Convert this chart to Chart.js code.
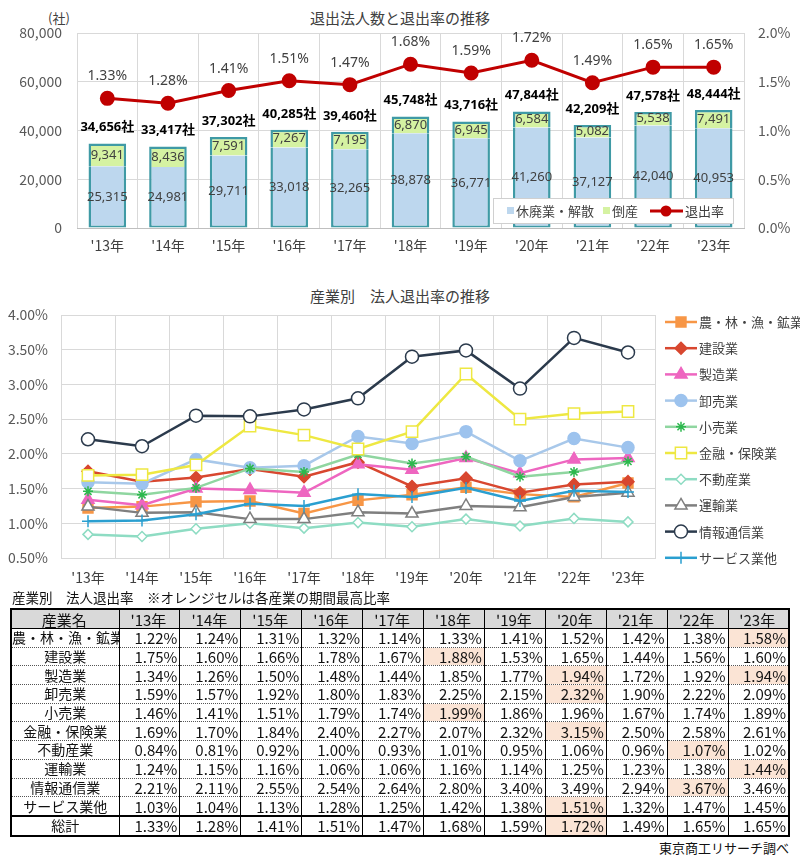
<!DOCTYPE html>
<html>
<head>
<meta charset="utf-8">
<script src="https://cdn.jsdelivr.net/npm/chart.js@4/dist/chart.umd.min.js"></script>
<style>
  body { margin: 0; width: 800px; height: 863px; position: relative; background: #fff;
         font-family: "Noto Sans CJK JP", sans-serif; color: #404040; overflow: hidden; }
  canvas { position: absolute; left: 0; }
  #topChart { top: 0; }
  #indChart { top: 280px; }
  .txt { position: absolute; white-space: nowrap; line-height: 1; }
  #tbl { position: absolute; left: 10px; top: 608px; width: 780px; border-collapse: collapse;
         table-layout: fixed; font-size: 15px; color: #111; border: 2px solid #000; }
  #tbl th, #tbl td { padding: 0 2px 0 0; line-height: 17px; height: 17.7px; white-space: nowrap; overflow: hidden;
         border-left: 1px solid #000; border-right: 1px solid #000; border-bottom: 1px dotted #555; font-weight: normal; }
  #tbl th { background: #d9d9d9; text-align: center; height: 18px; border-bottom: 1px solid #000; }
  #tbl td { text-align: right; }
  #tbl td.name { text-align: center; padding: 0; font-size: 14px; }
  #tbl td.hi { background: #fbe4d5; }
  #tbl tr.total td { border-top: 2px solid #000; }
</style>
</head>
<body>
<div class="txt" style="left:48px;top:11px;font-size:13px;">(社)</div>
<div class="txt" style="left:0;width:800px;top:10px;text-align:center;font-size:15px;">退出法人数と退出率の推移</div>
<canvas id="topChart" width="800" height="262"></canvas>
<div class="txt" style="left:0;width:800px;top:288px;text-align:center;font-size:15px;">産業別　法人退出率の推移</div>
<canvas id="indChart" width="800" height="310"></canvas>
<div class="txt" style="left:12px;top:591px;font-size:13.5px;color:#111;">産業別　法人退出率　※オレンジセルは各産業の期間最高比率</div>
<table id="tbl"></table>
<div class="txt" style="right:11px;top:841px;font-size:13px;color:#111;">東京商工リサーチ調べ</div>

<script>
const FONT = '"Noto Sans CJK JP", sans-serif';
const NUM_FONT = '"Noto Sans", "Noto Sans CJK JP", sans-serif';
Chart.defaults.font.family = FONT;
Chart.defaults.font.size = 14;
Chart.defaults.color = '#595959';

// ---- data ----
const years = ["'13年", "'14年", "'15年", "'16年", "'17年", "'18年", "'19年", "'20年", "'21年", "'22年", "'23年"];
const closedCounts = [25315, 24981, 29711, 33018, 32265, 38878, 36771, 41260, 37127, 42040, 40953];
const bankruptCounts = [9341, 8436, 7591, 7267, 7195, 6870, 6945, 6584, 5082, 5538, 7491];
const totalCounts = [34656, 33417, 37302, 40285, 39460, 45748, 43716, 47844, 42209, 47578, 48444];
const exitRates = [1.33, 1.28, 1.41, 1.51, 1.47, 1.68, 1.59, 1.72, 1.49, 1.65, 1.65];

const industries = ['農・林・漁・鉱業', '建設業', '製造業', '卸売業', '小売業', '金融・保険業', '不動産業', '運輸業', '情報通信業', 'サービス業他'];
const rateAgri = [1.22, 1.24, 1.31, 1.32, 1.14, 1.33, 1.41, 1.52, 1.42, 1.38, 1.58];
const rateConstruction = [1.75, 1.60, 1.66, 1.78, 1.67, 1.88, 1.53, 1.65, 1.44, 1.56, 1.60];
const rateManufacturing = [1.34, 1.26, 1.50, 1.48, 1.44, 1.85, 1.77, 1.94, 1.72, 1.92, 1.94];
const rateWholesale = [1.59, 1.57, 1.92, 1.80, 1.83, 2.25, 2.15, 2.32, 1.90, 2.22, 2.09];
const rateRetail = [1.46, 1.41, 1.51, 1.79, 1.74, 1.99, 1.86, 1.96, 1.67, 1.74, 1.89];
const rateFinance = [1.69, 1.70, 1.84, 2.40, 2.27, 2.07, 2.32, 3.15, 2.50, 2.58, 2.61];
const rateRealEstate = [0.84, 0.81, 0.92, 1.00, 0.93, 1.01, 0.95, 1.06, 0.96, 1.07, 1.02];
const rateTransport = [1.24, 1.15, 1.16, 1.06, 1.06, 1.16, 1.14, 1.25, 1.23, 1.38, 1.44];
const rateInfoComm = [2.21, 2.11, 2.55, 2.54, 2.64, 2.80, 3.40, 3.49, 2.94, 3.67, 3.46];
const rateService = [1.03, 1.04, 1.13, 1.28, 1.25, 1.42, 1.38, 1.51, 1.32, 1.47, 1.45];
const industryRates = [rateAgri, rateConstruction, rateManufacturing, rateWholesale, rateRetail,
  rateFinance, rateRealEstate, rateTransport, rateInfoComm, rateService];

// ---- styles ----
const BLUE = '#bdd7ee', GREEN = '#d5f2a2', TEAL = '#3f9aa5', RED = '#c00000';
const seriesStyles = [
  { line: '#f79646', fill: '#f79646', stroke: '#f79646', point: 'rect', r: 7 },
  { line: '#d8472f', fill: '#d8472f', stroke: '#d8472f', point: 'rectRot', r: 6 },
  { line: '#ee66c0', fill: '#ee66c0', stroke: '#ee66c0', point: 'triangle', r: 7 },
  { line: '#a8c8ea', fill: '#9dc3ee', stroke: '#9dc3ee', point: 'circle', r: 6 },
  { line: '#8fd6a0', fill: '#2db84e', stroke: '#2db84e', point: 'star', r: 5 },
  { line: '#eee842', fill: '#ffffff', stroke: '#eee842', point: 'rect', r: 8 },
  { line: '#8edcc3', fill: '#ffffff', stroke: '#8edcc3', point: 'rectRot', r: 5 },
  { line: '#7f7f7f', fill: '#ffffff', stroke: '#7f7f7f', point: 'triangle', r: 7 },
  { line: '#2b3a4c', fill: '#ffffff', stroke: '#2b3a4c', point: 'circle', r: 6.5 },
  { line: '#2a9fd0', fill: '#2a9fd0', stroke: '#2a9fd0', point: 'cross', r: 6 }
];

function drawMarker(ctx, st, x, y) {
  ctx.fillStyle = st.fill;
  ctx.strokeStyle = st.stroke;
  ctx.lineWidth = 1.5;
  Chart.helpers.drawPoint(ctx, { pointStyle: st.point, radius: st.r, rotation: 0, borderWidth: 1.5 }, x, y);
}

// ---- top chart ----
const topLabels = {
  id: 'topLabels',
  afterDatasetsDraw(chart) {
    const ctx = chart.ctx;
    const blue = chart.getDatasetMeta(0).data;
    const green = chart.getDatasetMeta(1).data;
    const pts = chart.getDatasetMeta(2).data;
    ctx.save();
    ctx.textAlign = 'center';
    ctx.textBaseline = 'middle';
    blue.forEach((b, i) => {
      const g = green[i];
      ctx.font = '13px ' + NUM_FONT;
      ctx.fillStyle = '#404040';
      ctx.fillText(closedCounts[i].toLocaleString('en-US'), b.x, (b.y + b.base) / 2);
      ctx.fillText(bankruptCounts[i].toLocaleString('en-US'), g.x, (g.y + g.base) / 2);
      ctx.font = 'bold 13px ' + NUM_FONT;
      ctx.fillStyle = '#000';
      ctx.fillText(totalCounts[i].toLocaleString('en-US') + '社', g.x, g.y - 16);
      ctx.font = '14px ' + NUM_FONT;
      ctx.fillStyle = '#404040';
      ctx.fillText(exitRates[i].toFixed(2) + '%', pts[i].x, pts[i].y - 22);
    });
    // legend box inside plot
    ctx.fillStyle = '#fff';
    ctx.fillRect(493, 198, 240, 25);
    ctx.strokeStyle = '#d0d0d0';
    ctx.lineWidth = 1;
    ctx.strokeRect(493.5, 198.5, 240, 25);
    ctx.textAlign = 'left';
    ctx.font = '13px ' + FONT;
    ctx.fillStyle = BLUE; ctx.fillRect(507, 207, 7, 7);
    ctx.fillStyle = GREEN; ctx.fillRect(603, 207, 7, 7);
    ctx.fillStyle = '#404040';
    ctx.fillText('休廃業・解散', 516, 211);
    ctx.fillText('倒産', 612, 211);
    ctx.fillText('退出率', 685, 211);
    ctx.strokeStyle = RED; ctx.lineWidth = 3;
    ctx.beginPath(); ctx.moveTo(650, 211); ctx.lineTo(683, 211); ctx.stroke();
    ctx.fillStyle = RED;
    ctx.beginPath(); ctx.arc(666, 211, 5.5, 0, Math.PI * 2); ctx.fill();
    ctx.restore();
  }
};

new Chart(document.getElementById('topChart'), {
  type: 'bar',
  data: {
    labels: years,
    datasets: [
      { label: '休廃業・解散', data: closedCounts, backgroundColor: BLUE, borderColor: TEAL,
        borderWidth: { left: 2.5, right: 2.5, bottom: 2, top: 0 }, borderSkipped: false, stack: 's', order: 2 },
      { label: '倒産', data: bankruptCounts, backgroundColor: GREEN, borderColor: TEAL,
        borderWidth: { left: 2.5, right: 2.5, top: 2.5, bottom: 0 }, borderSkipped: false, stack: 's', order: 2 },
      { type: 'line', label: '退出率', data: exitRates, yAxisID: 'y1', borderColor: RED, borderWidth: 3,
        pointRadius: 6, pointBackgroundColor: RED, pointBorderColor: RED, order: 0 }
    ]
  },
  options: {
    responsive: false,
    animation: false,
    layout: { padding: { top: 33, left: 0, right: 0, bottom: 0 } },
    plugins: { legend: { display: false }, tooltip: { enabled: false } },
    datasets: { bar: { barPercentage: 0.62, categoryPercentage: 1 } },
    scales: {
      x: { stacked: true, grid: { color: '#d9d9d9', offset: true, drawTicks: false }, border: { color: '#bfbfbf' },
           ticks: { padding: 9, color: '#404040' }, afterFit(s) { s.height = 34; } },
      y: { stacked: true, min: 0, max: 80000, grid: { color: '#d9d9d9', drawTicks: false }, border: { display: false },
           ticks: { stepSize: 20000, padding: 15, callback: v => v.toLocaleString('en-US') },
           afterFit(s) { s.width = 77; } },
      y1: { position: 'right', min: 0, max: 2, grid: { display: false }, border: { display: false },
            ticks: { stepSize: 0.5, padding: 6, callback: v => v.toFixed(1) + '%' },
            afterFit(s) { s.width = 56; } }
    }
  },
  plugins: [topLabels]
});

// ---- industry chart ----
const indLegend = {
  id: 'indLegend',
  afterDraw(chart) {
    const ctx = chart.ctx;
    ctx.save();
    ctx.font = '13px ' + FONT;
    ctx.textAlign = 'left';
    ctx.textBaseline = 'middle';
    industries.forEach((name, i) => {
      const st = seriesStyles[i];
      const y = 42 + i * 26.2;
      ctx.strokeStyle = st.line; ctx.lineWidth = 2.5;
      ctx.beginPath(); ctx.moveTo(665, y); ctx.lineTo(697, y); ctx.stroke();
      drawMarker(ctx, st, 681, y);
      ctx.fillStyle = '#404040';
      ctx.fillText(name, 699, y);
    });
    ctx.restore();
  }
};

new Chart(document.getElementById('indChart'), {
  type: 'line',
  data: {
    labels: years,
    datasets: industries.map((name, i) => {
      const st = seriesStyles[i];
      return {
        label: name, data: industryRates[i], borderColor: st.line, borderWidth: 2.5,
        pointStyle: st.point, pointRadius: st.r, pointBackgroundColor: st.fill,
        pointBorderColor: st.stroke, pointBorderWidth: 1.5, order: industries.length - i
      };
    })
  },
  options: {
    responsive: false,
    animation: false,
    layout: { padding: { top: 35, left: 0, right: 145, bottom: 0 } },
    plugins: { legend: { display: false }, tooltip: { enabled: false } },
    scales: {
      x: { offset: true, grid: { offset: true, color: '#d9d9d9', drawTicks: false }, border: { color: '#d9d9d9' },
           ticks: { padding: 11, color: '#404040' }, afterFit(s) { s.height = 32; } },
      y: { min: 0.5, max: 4, grid: { color: '#d9d9d9', drawTicks: false }, border: { display: false },
           ticks: { stepSize: 0.5, padding: 13, callback: v => v.toFixed(2) + '%' },
           afterFit(s) { s.width = 61; } }
    }
  },
  plugins: [indLegend]
});

// ---- table ----
const tbl = document.getElementById('tbl');
let html = '<colgroup><col style="width:108px">' + years.map(() => '<col>').join('') + '</colgroup>';
html += '<tr><th>産業名</th>' + years.map(y => '<th>' + y + '</th>').join('') + '</tr>';
const rows = industries.map((n, i) => [n, industryRates[i], '']).concat([['総計', exitRates, 'total']]);
rows.forEach(([name, vals, cls]) => {
  const mx = Math.max(...vals);
  html += '<tr class="' + cls + '"><td class="name">' + name + '</td>' +
    vals.map(v => '<td' + (v === mx ? ' class="hi"' : '') + '>' + v.toFixed(2) + '%</td>').join('') + '</tr>';
});
tbl.innerHTML = html;
</script>
</body>
</html>
